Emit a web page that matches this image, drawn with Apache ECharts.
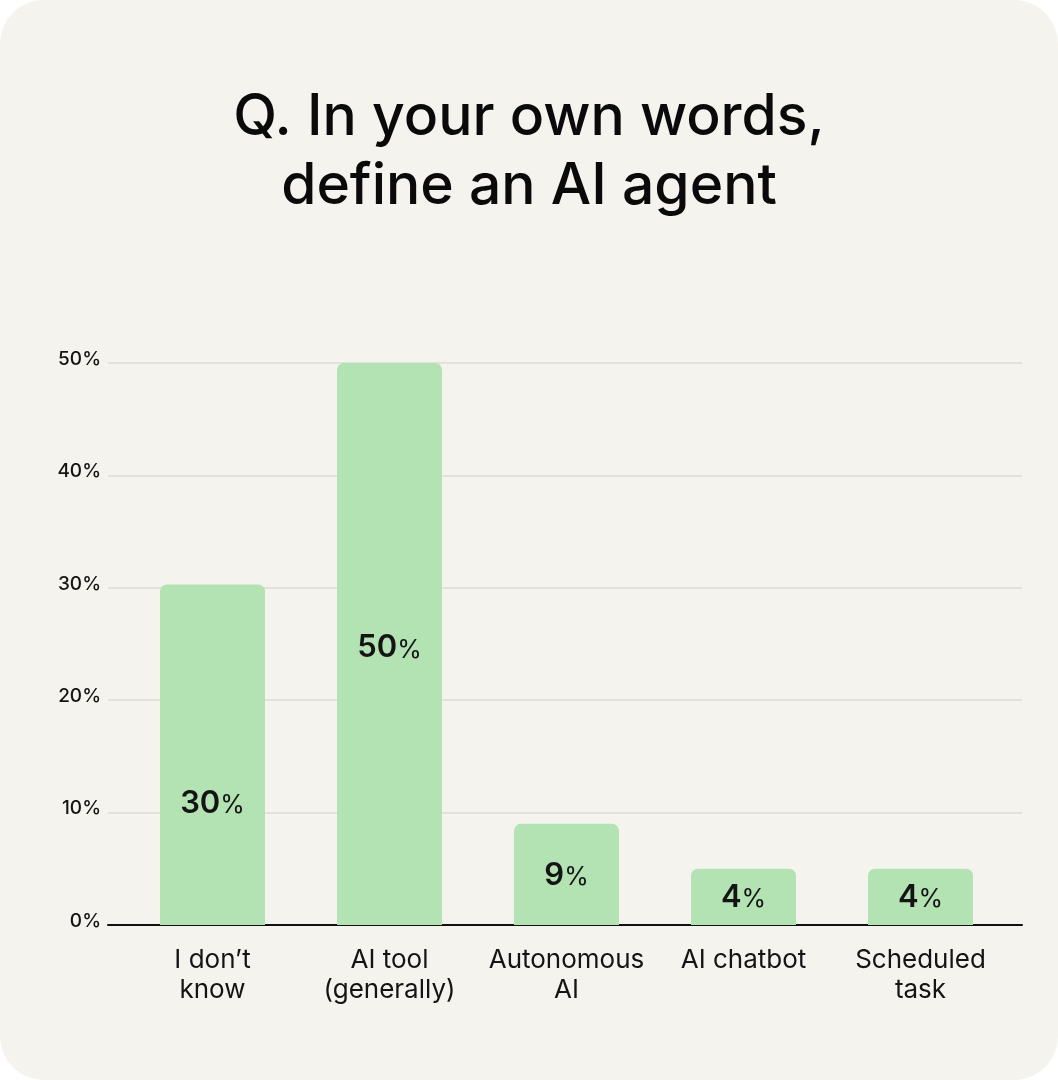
<!DOCTYPE html>
<html>
<head>
<meta charset="utf-8">
<script src="https://cdn.jsdelivr.net/npm/echarts@6/dist/echarts.min.js"></script>
<style>
  html, body { margin: 0; padding: 0; background: #ffffff; }
  #card {
    width: 1058px;
    height: 1080px;
    background: #f4f3ee;
    border-radius: 44px;
    overflow: hidden;
  }
  #main { width: 1058px; height: 1080px; }
</style>
</head>
<body>
<div id="card"><div id="main"></div></div>
<script>
// 数据
var categories = ['I don\u2019t\nknow', 'AI tool\n(generally)', 'Autonomous\nAI', 'AI chatbot', 'Scheduled\ntask'];
var barValues = [30.3, 50, 9, 5, 5];
var barLabels = ['30', '50', '9', '4', '4'];
var yTicks = [0, 10, 20, 30, 40, 50];

var FONT = 'Inter, "Noto Sans", sans-serif';
var INK = '#141414';

var mycharts = echarts.init(document.getElementById('main'));

// label offsets per bar (style only)
var labelOffsets = [[0, 49], [0, 4], [0, 1], [0, 1], [0, 1]];

var seriesData = barValues.map(function(v, i) {
  return {
    value: v,
    label: { offset: labelOffsets[i] },
  };
});

var option = {
  backgroundColor: 'transparent',
  animation: false,
  title: {
    text: 'Q. In your own words,\ndefine an AI agent',
    left: 'center',
    top: 78,
    textStyle: {
      fontFamily: FONT,
      fontSize: 57,
      fontWeight: 500,
      lineHeight: 69,
      color: '#0a0a0a',
    },
  },
  grid: [
    { left: 108, right: 36, top: 363, bottom: 155 },
    { left: 124, right: 49, top: 363, bottom: 155 },
  ],
  xAxis: [
    {
      type: 'category',
      gridIndex: 0,
      data: categories,
      axisLine: { show: true, lineStyle: { color: '#111111', width: 2 } },
      axisTick: { show: false },
      axisLabel: { show: false },
      splitLine: { show: false },
    },
    {
      type: 'category',
      gridIndex: 1,
      data: categories,
      axisLine: { show: false },
      axisTick: { show: false },
      splitLine: { show: false },
      axisLabel: {
        margin: 20,
        fontFamily: FONT,
        fontSize: 26,
        lineHeight: 30,
        color: INK,
        interval: 0,
      },
    },
  ],
  yAxis: [
    {
      type: 'value',
      gridIndex: 0,
      min: yTicks[0],
      max: yTicks[yTicks.length - 1],
      interval: 10,
      axisLine: { show: false },
      axisTick: { show: false },
      splitLine: { show: true, lineStyle: { color: '#dddbd5', width: 1.5 } },
      axisLabel: {
        margin: 7,
        fontFamily: FONT,
        fontSize: 19,
        fontWeight: 500,
        color: INK,
        verticalAlign: 'bottom',
        lineHeight: 8,
        formatter: function(v) {
          return yTicks.indexOf(v) > -1 ? v + '%' : '';
        },
      },
    },
    {
      type: 'value',
      gridIndex: 1,
      min: yTicks[0],
      max: yTicks[yTicks.length - 1],
      show: false,
      splitLine: { show: false },
    },
  ],
  series: [
    {
      type: 'bar',
      xAxisIndex: 1,
      yAxisIndex: 1,
      barWidth: 105,
      data: seriesData,
      itemStyle: {
        color: '#b3e2b3',
        borderRadius: [7, 7, 0, 0],
      },
      label: {
        show: true,
        position: 'inside',
        formatter: function(p) {
          return '{n|' + barLabels[p.dataIndex] + '}{p|%}';
        },
        rich: {
          n: { fontFamily: FONT, fontSize: 31, fontWeight: 600, color: INK },
          p: { fontFamily: FONT, fontSize: 25, fontWeight: 400, color: INK, padding: [4, 0, 0, 0] },
        },
      },
    },
  ],
};

mycharts.setOption(option);
</script>
</body>
</html>
